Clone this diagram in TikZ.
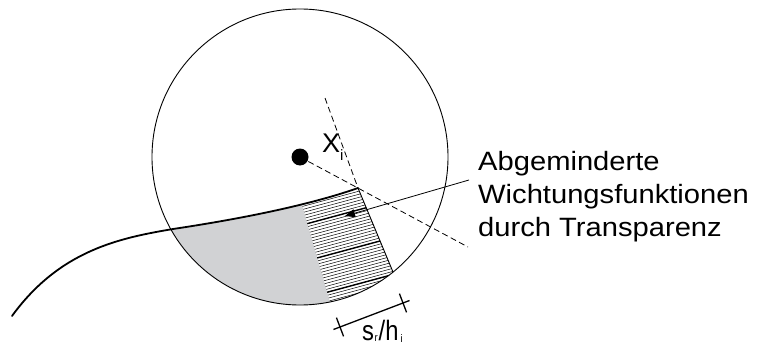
\documentclass[tikz,border=0pt]{standalone}
\usepackage{fontspec}
\setmainfont{Liberation Sans}
\newfontfamily\wideFont[FakeStretch=1.1]{Liberation Sans}
\newfontfamily\narrowFont[FakeStretch=0.85]{Liberation Sans}
\usepackage{tikz}
\usetikzlibrary{arrows.meta, calc}
\definecolor{shadegray}{RGB}{209,210,212}

\begin{document}
\begin{tikzpicture}[
    x=1pt, y=-1pt,
    outline/.style={line width=0.9pt},
    surface/.style={line width=1.8pt, line cap=round},
    axisline/.style={dash pattern=on 6pt off 3.5pt, line width=0.8pt},
    hatchthin/.style={line width=0.5pt},
    hatchthick/.style={line width=1.4pt},
    leader/.style={line width=0.8pt, -{Triangle[length=10pt, width=8pt]}},
    dimline/.style={line width=1.3pt}
]
\useasboundingbox (0,0) rectangle (758,345);

% Key points
\coordinate (ctr) at (300,157);
\coordinate (cA) at (358,188);   % top corner of hatched strip
\coordinate (cB) at (393,272);   % strip meets circle, right
\coordinate (dashend) at (468,247);
\coordinate (dashtop) at (325,98);
\def\surfacepath{(12,316) .. controls (60,250) and (120,238) .. (173,229) .. controls (240,219) and (310,205) .. (358,188)}

% Shaded part and hatched strip
\begin{scope}
  \clip (ctr) circle[radius=148pt];
  \clip \surfacepath -- (600,100) -- (600,400) -- (0,400) -- cycle;
  \begin{scope}
    \clip (246,11) -- (358,399) -- (0,400) -- (0,0) -- cycle;
    \fill[shadegray] (0,0) rectangle (600,400);
  \end{scope}
  \begin{scope}
    \clip (246,11) -- (358,399) -- (445.5,398) -- (288,20) -- cycle;
    \foreach \i in {0,...,48}
      \draw[hatchthin] (280,194+3.083*\i) -- ++(150,-40.5);
    \foreach \i in {0,12,...,48}
      \draw[hatchthick] (280,194+3.083*\i) -- ++(150,-40.5);
  \end{scope}
\end{scope}
\draw[outline] (cA) -- (cB);

% Circle, centre and surface
\draw[outline] (ctr) circle[radius=148pt];
\fill (ctr) circle[radius=8.5pt];
\draw[surface] \surfacepath;

% Dashed axes
\draw[axisline] (ctr) -- (dashend);
\draw[axisline] (dashtop) -- (cA);

% Labels
\node[anchor=base west, inner sep=0, font=\fontsize{27}{27}\selectfont] (xlab) at (322,152)
  {X\raisebox{-8pt}{\fontsize{15}{15}\selectfont i}};
\node[anchor=north west, inner sep=0, align=left, font=\wideFont\fontsize{26.5}{33}\selectfont] (txt) at (478,151.5)
  {Abgeminderte\\Wichtungsfunktionen\\durch Transparenz};
\coordinate (lead) at ($(txt.north west)+(-9,28.5)$);
\coordinate (tip) at (345,216);
\draw[leader] (lead) -- (tip);

% Strip width
\coordinate (d1) at (340,327);
\coordinate (d2) at (403,303);
\draw[dimline] ($(d1)!-7pt!(d2)$) -- ($(d2)!-7pt!(d1)$);
\draw[dimline] ($(d1)!10pt!90:(d2)$) -- ($(d1)!10pt!-90:(d2)$);
\draw[dimline] ($(d2)!10pt!90:(d1)$) -- ($(d2)!10pt!-90:(d1)$);
\node[anchor=base west, inner sep=0, font=\narrowFont\fontsize{28}{28}\selectfont] (dimlab) at (362,340)
  {s\kern0.5pt\raisebox{-1pt}{\fontsize{11}{11}\selectfont r}\kern1pt/h\kern2pt\raisebox{-2pt}{\fontsize{11}{11}\selectfont i}};

\end{tikzpicture}
\end{document}
